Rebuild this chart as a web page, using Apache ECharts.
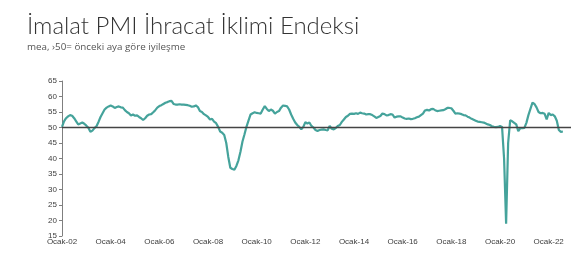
<!DOCTYPE html>
<html>
<head>
<meta charset="utf-8">
<script src="https://cdn.jsdelivr.net/npm/echarts@6/dist/echarts.min.js"></script>
<style>
html,body{margin:0;padding:0;background:#fff;}
#c{width:586px;height:262px;}
</style>
</head>
<body>
<div id="c"></div>
<script>
const titleText = 'İmalat PMI İhracat İklimi Endeksi';
const subText = 'mea, ›50= önceki aya göre iyileşme';
const monthNames = ['Ocak','Şubat','Mart','Nisan','Mayıs','Haziran','Temmuz','Ağustos','Eylül','Ekim','Kasım','Aralık'];
const years = [2002,2003,2004,2005,2006,2007,2008,2009,2010,2011,2012,2013,2014,2015,2016,2017,2018,2019,2020,2021,2022];
const yTicks = [15,20,25,30,35,40,45,50,55,60,65];
const threshold = 50;

const v2002 = [50.2,52.0,53.0,53.6,54.0,53.8,53.0,52.0,51.0,51.3,51.6,51.2];
const v2003 = [50.6,49.9,48.6,49.0,49.8,50.4,51.8,53.4,54.6,55.8,56.4,56.8];
const v2004 = [57.1,56.8,56.3,56.6,56.8,56.5,56.4,55.6,55.0,54.6,53.9,54.2];
const v2005 = [53.8,53.9,53.4,53.0,52.4,53.0,53.8,54.2,54.3,54.9,55.6,56.4];
const v2006 = [56.9,57.2,57.6,58.0,58.2,58.5,58.6,57.6,57.4,57.4,57.5,57.4];
const v2007 = [57.4,57.3,57.2,57.0,56.7,56.8,57.1,56.6,55.3,55.0,54.3,53.9];
const v2008 = [53.4,52.6,52.8,51.9,51.4,50.2,48.7,48.3,47.6,45.0,40.5,37.0];
const v2009 = [36.6,36.4,37.6,39.4,42.2,45.5,47.8,50.3,52.3,54.2,54.6,54.9];
const v2010 = [54.7,54.6,54.5,55.8,56.9,56.0,55.3,55.8,55.4,54.5,55.0,55.3];
const v2011 = [56.4,57.1,57.0,56.8,55.8,54.2,52.8,51.6,50.8,50.2,49.4,50.2];
const v2012 = [51.7,51.3,51.6,50.5,50.0,49.2,48.9,49.2,49.3,49.4,49.2,49.1];
const v2013 = [50.5,49.6,49.4,49.8,50.5,50.8,51.8,52.6,53.4,53.8,54.4,54.5];
const v2014 = [54.4,54.6,54.4,54.8,54.6,54.5,54.2,54.3,54.3,54.0,53.6,53.1];
const v2015 = [53.4,53.7,54.5,54.3,53.9,54.0,54.3,54.2,53.2,53.5,53.6,53.6];
const v2016 = [53.2,52.9,52.8,52.9,52.7,52.8,53.0,53.3,53.5,54.0,54.5,55.5];
const v2017 = [55.7,55.5,55.9,56.0,55.6,55.3,55.4,55.5,55.6,55.9,56.3,56.3];
const v2018 = [56.2,55.4,54.5,54.6,54.5,54.3,54.0,53.9,53.5,53.2,52.8,52.5];
const v2019 = [52.2,51.9,51.8,51.7,51.6,51.3,51.0,50.8,50.4,50.2,50.1,50.2];
const v2020 = [50.5,50.2,40.0,19.0,45.0,52.3,52.0,51.5,51.0,48.8,49.8,49.8];
const v2021 = [49.9,51.5,54.0,56.0,58.0,57.6,56.5,55.0,54.6,54.7,54.4,52.6];
const v2022 = [54.7,54.0,54.2,53.6,52.2,49.2,48.6,48.7,null,null,null,null];

const values = [].concat(v2002,v2003,v2004,v2005,v2006,v2007,v2008,v2009,v2010,v2011,
  v2012,v2013,v2014,v2015,v2016,v2017,v2018,v2019,v2020,v2021,v2022);

const categories = [];
years.forEach(y => monthNames.forEach(m => categories.push(m + '-' + String(y).slice(2))));

const chart = echarts.init(document.getElementById('c'), null, {renderer:'canvas'});
chart.setOption({
  animation: false,
  backgroundColor: '#fff',
  title: {
    text: titleText,
    subtext: subText,
    left: 22,
    top: 9,
    itemGap: 4,
    textStyle: {fontFamily: 'Lato', fontWeight: 300, fontSize: 24, color: '#333'},
    subtextStyle: {fontFamily: 'Open Sans', fontSize: 9.8, color: '#555'}
  },
  grid: {left: 62, right: 15, top: 81, bottom: 26, containLabel: false},
  xAxis: {
    type: 'category',
    data: categories,
    boundaryGap: false,
    axisLine: {show: false},
    axisTick: {show: false},
    axisLabel: {
      interval: function (i) { return i % 24 === 0; },
      fontFamily: 'Liberation Sans', fontSize: 8, color: '#404040', margin: 2
    },
    splitLine: {show: false}
  },
  yAxis: {
    type: 'value',
    min: 15, max: 65, interval: 5,
    axisLine: {show: true, lineStyle: {color: '#7f7f7f', width: 1}},
    axisTick: {show: true, length: 3, lineStyle: {color: '#7f7f7f'}},
    axisLabel: {fontFamily: 'Liberation Sans', fontSize: 8, color: '#404040', margin: 5},
    splitLine: {show: false}
  },
  series: [{
    type: 'line',
    data: values,
    showSymbol: false,
    symbol: 'none',
    lineStyle: {color: '#45a39b', width: 2.2},
    markLine: {
      silent: true,
      symbol: 'none',
      label: {show: false},
      lineStyle: {color: '#444', width: 1.3, type: 'solid'},
      data: [{yAxis: threshold}]
    },
    z: 3
  }]
});
</script>
</body>
</html>
